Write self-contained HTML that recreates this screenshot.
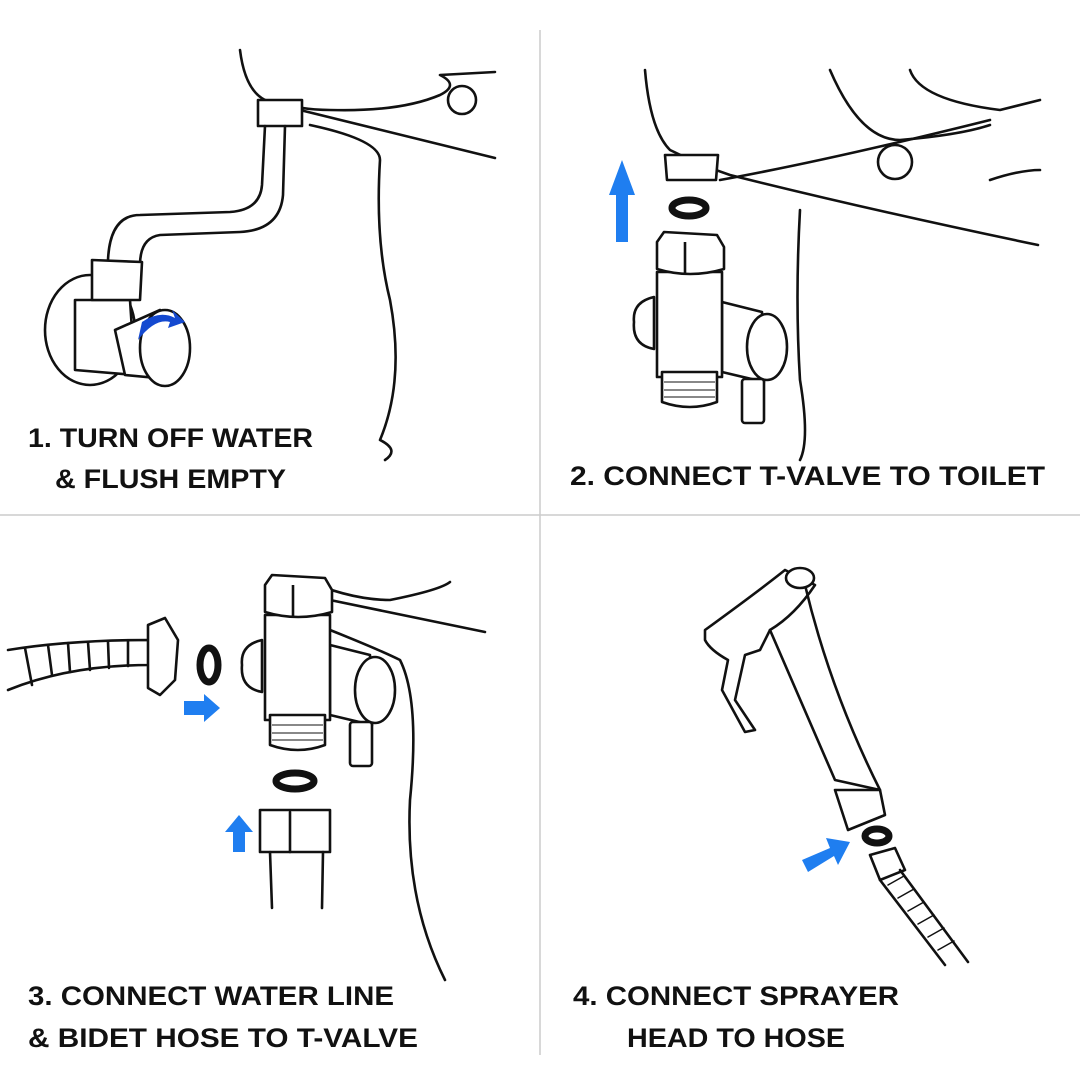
<!DOCTYPE html>
<html><head><meta charset="utf-8"><style>
html,body{margin:0;padding:0;background:#fff}
svg{display:block}
text{font-family:"Liberation Sans",sans-serif;font-weight:bold;font-size:27px;fill:#111}
</style></head><body>
<svg width="1080" height="1080" viewBox="0 0 1080 1080" xmlns="http://www.w3.org/2000/svg">
<defs>
<g id="tv" fill="#fff" stroke="#111" stroke-width="2.6" stroke-linejoin="round">
  <path d="M330 645 L370 655 L372 725 L330 715 Z"/>
  <ellipse cx="375" cy="690" rx="20" ry="33"/>
  <path d="M265 615 L330 615 L330 720 L265 720 Z"/>
  <path d="M262 640 Q240 645 242 665 Q240 688 262 692 Z"/>
  <path d="M270 715 L325 715 L325 745 Q298 755 270 745 Z"/>
  <line x1="272" y1="725" x2="323" y2="725" stroke-width="1"/><line x1="272" y1="733" x2="323" y2="733" stroke-width="1"/><line x1="272" y1="740" x2="323" y2="740" stroke-width="1"/>
  <rect x="350" y="722" width="22" height="44" rx="3"/>
  <path d="M265 585 L272 575 L325 578 L332 590 L332 612 Q298 622 265 612 Z"/>
  <line x1="293" y1="585" x2="293" y2="618"/>
</g>
</defs>
<line x1="540" y1="30" x2="540" y2="1055" stroke="#ccc" stroke-width="1.5"/>
<line x1="0" y1="515" x2="1080" y2="515" stroke="#ccc" stroke-width="1.5"/>

<g fill="none" stroke="#111" stroke-width="2.6" stroke-linecap="round" stroke-linejoin="round">
<!-- panel 1 -->
<path d="M240 50 Q245 90 265 100 Q300 110 330 110 Q400 112 440 95 Q460 85 440 75 L495 72"/>
<path d="M300 110 L495 158"/>
<path d="M310 125 Q380 140 380 160 Q375 240 390 300 Q405 380 380 440 Q400 450 385 460"/>
<rect x="258" y="100" width="44" height="26" fill="#fff"/>
<circle cx="462" cy="100" r="14" fill="#fff"/>
<path d="M265 126 L262 185 Q260 210 230 212 L140 215 Q110 215 108 260"/>
<path d="M285 126 L283 195 Q280 230 240 232 L160 235 Q140 238 140 265"/>
<ellipse cx="90" cy="330" rx="45" ry="55" fill="#fff"/>
<path d="M75 300 L130 300 L135 375 L75 370 Z" fill="#fff"/>
<path d="M92 260 L142 262 L140 300 L92 300 Z" fill="#fff"/>
<path d="M115 330 L160 310 L178 380 L125 375 Z" fill="#fff"/>
<ellipse cx="165" cy="348" rx="25" ry="38" fill="#fff"/>
<!-- panel 2 -->
<path d="M645 70 Q650 130 670 150 Q700 165 730 175 Q870 210 1038 245"/>
<path d="M720 180 Q830 160 990 120"/>
<path d="M830 70 Q860 140 900 140 Q960 135 990 125"/>
<path d="M910 70 Q920 100 1000 110 L1040 100"/>
<path d="M990 180 Q1020 170 1040 170"/>
<path d="M800 210 Q795 300 800 380 Q810 440 800 460"/>
<path d="M665 155 L718 155 L716 180 L667 180 Z" fill="#fff"/>
<circle cx="895" cy="162" r="17" fill="#fff"/>
<!-- panel 3 -->
<path d="M300 578 Q350 600 390 600 Q440 590 450 582"/>
<path d="M330 600 L485 632"/>
<path d="M330 630 Q380 650 400 660 Q420 700 410 800 Q405 900 445 980"/>
<path d="M8 650 Q70 640 150 640 L150 665 Q70 665 8 690" fill="#fff"/>
<path d="M25 648 L32 685 M48 645 L52 675 M68 643 L70 672 M88 642 L90 670 M108 642 L109 668 M128 641 L128 666"/>
<path d="M148 625 L165 618 L178 640 L175 680 L160 695 L148 688 Z" fill="#fff"/>
<rect x="260" y="810" width="70" height="42" fill="#fff"/>
<line x1="290" y1="812" x2="290" y2="852"/>
<path d="M270 852 L272 908 M323 852 L322 908"/>
<!-- panel 4 -->
<path d="M705 630 Q760 590 785 570 L815 585 Q795 615 770 630 L760 650 L745 655 L735 700 L755 730 L745 732 L722 690 L728 660 Q710 650 705 640 Z" fill="#fff"/>
<path d="M770 630 L835 780 L880 790 Q830 690 805 585"/>
<ellipse cx="800" cy="578" rx="14" ry="10" fill="#fff"/>
<path d="M835 790 L880 790 L885 815 L848 830 Z" fill="#fff"/>
<path d="M870 855 L895 848 L905 870 L880 880 Z" fill="#fff"/>
<path d="M880 880 L945 965 M900 870 L968 962"/>
<path d="M888 885 L904 876 M898 898 L914 889 M908 911 L924 902 M918 924 L934 915 M928 937 L944 928 M938 950 L954 941" stroke-width="1.5"/>
</g>
<use href="#tv"/>
<use href="#tv" x="392" y="-343"/>
<!-- black rings -->
<g fill="none" stroke="#111" stroke-width="7">
<ellipse cx="689" cy="208" rx="17" ry="8"/>
<ellipse cx="209" cy="665" rx="9" ry="17"/>
<ellipse cx="295" cy="781" rx="19" ry="8"/>
<ellipse cx="877" cy="836" rx="12" ry="7"/>
</g>
<!-- blue arrows -->
<g fill="#1f7ef0">
<path d="M142 322 Q160 310 175 318 L172 310 L185 322 L168 328 L170 322 Q155 318 138 340 Z" fill="#1449d0"/>
<path d="M616 242 L628 242 L628 195 L635 195 L622 160 L609 195 L616 195 Z"/>
<path d="M184 701 L204 701 L204 694 L220 708 L204 722 L204 715 L184 715 Z"/>
<path d="M233 852 L245 852 L245 832 L253 832 L239 815 L225 832 L233 832 Z"/>
<path d="M802 860 L830 848 L826 838 L850 842 L838 865 L834 856 L808 872 Z"/>
</g>
<text x="28" y="447" textLength="285" lengthAdjust="spacingAndGlyphs">1. TURN OFF WATER</text>
<text x="55" y="488" textLength="231" lengthAdjust="spacingAndGlyphs">&amp; FLUSH EMPTY</text>
<text x="570" y="485" textLength="475" lengthAdjust="spacingAndGlyphs">2. CONNECT T-VALVE TO TOILET</text>
<text x="28" y="1005" textLength="366" lengthAdjust="spacingAndGlyphs">3. CONNECT WATER LINE</text>
<text x="28" y="1047" textLength="390" lengthAdjust="spacingAndGlyphs">&amp; BIDET HOSE TO T-VALVE</text>
<text x="573" y="1005" textLength="326" lengthAdjust="spacingAndGlyphs">4. CONNECT SPRAYER</text>
<text x="627" y="1047" textLength="218" lengthAdjust="spacingAndGlyphs">HEAD TO HOSE</text>
</svg>
</body></html>
